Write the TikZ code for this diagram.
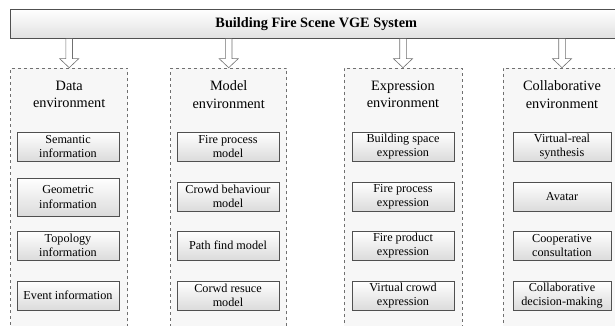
\documentclass[tikz,border=0pt]{standalone}
\usepackage{fontspec}
\setmainfont{Liberation Serif}
\usetikzlibrary{calc}
\definecolor{lineg}{HTML}{505050}
\definecolor{dashg}{HTML}{707070}
\definecolor{envfill}{HTML}{F7F7F7}
\tikzset{
  titlebox/.style={draw=lineg, line width=0.7pt, top color=white, bottom color=black!12,
    minimum width=611.5pt, minimum height=29pt, inner sep=0pt,
    font=\fontsize{14.3}{16}\selectfont\bfseries},
  envbox/.style={draw=dashg, dashed, line width=0.6pt, fill=envfill, inner sep=0pt},
  envtitle/.style={align=center, inner sep=0pt, font=\fontsize{14.3}{17.3}\selectfont},
  itembox/.style={draw=lineg, line width=0.7pt, top color=white, bottom color=black!14,
    minimum width=102pt, minimum height=29pt, inner sep=0pt, align=center,
    font=\fontsize{12.2}{14.3}\selectfont},
  hollow/.style={draw=dashg, line width=0.6pt, fill=white}
}
\newcommand\hollowarrow[2]{%
  \draw[hollow] let \p1=(#2.north), \p2=(#1.south) in
    (\x1-3.3pt,\y2) -- (\x1-3.3pt,\y1+9pt) -- (\x1-9.5pt,\y1+9pt) -- (\x1,\y1)
    -- (\x1+9.5pt,\y1+9pt) -- (\x1+3.3pt,\y1+9pt) -- (\x1+3.3pt,\y2);}
\begin{document}
\begin{tikzpicture}[x=1pt,y=-1pt]
\useasboundingbox (0,0) rectangle (615,326);
\clip (0,0) rectangle (615,326);
% title
\node[titlebox] (title) at (316.25,24) {Building Fire Scene VGE System};
% environment boxes
\node[envbox, minimum width=117pt, minimum height=280pt, anchor=north] (c1) at (69.2,67.7) {};
\node[envbox, minimum width=116pt, minimum height=280pt, anchor=north] (c2) at (228.7,67.7) {};
\node[envbox, minimum width=118pt, minimum height=280pt, anchor=north] (c3) at (403,67.7) {};
\node[envbox, minimum width=118pt, minimum height=280pt, anchor=north] (c4) at (562,67.7) {};
% arrows
\hollowarrow{title}{c1}
\hollowarrow{title}{c2}
\hollowarrow{title}{c3}
\hollowarrow{title}{c4}
% environment titles
\node[envtitle] (t1) at (69.2,94.5) {Data\\environment};
\node[envtitle] (t2) at (228.7,94.5) {Model\\environment};
\node[envtitle] (t3) at (403,94.5) {Expression\\environment};
\node[envtitle] (t4) at (562,94.5) {Collaborative\\environment};
% column 1
\node[itembox] (a1) at (68,146.5) {Semantic\\information};
\node[itembox, minimum height=38pt] (a2) at (68,197) {Geometric\\information};
\node[itembox] (a3) at (68,245.5) {Topology\\information};
\node[itembox] (a4) at (68,295.5) {Event information};
% column 2
\node[itembox] (b1) at (228,146.5) {Fire process\\model};
\node[itembox] (b2) at (228,196.5) {Crowd behaviour\\model};
\node[itembox] (b3) at (228,245.5) {Path find model};
\node[itembox] (b4) at (228,295.5) {Corwd resuce\\model};
% column 3
\node[itembox] (d1) at (403,146.5) {Building space\\expression};
\node[itembox] (d2) at (403,196.5) {Fire process\\expression};
\node[itembox] (d3) at (403,245.5) {Fire product\\expression};
\node[itembox] (d4) at (403,295.5) {Virtual crowd\\expression};
% column 4
\node[itembox, minimum width=98pt] (e1) at (562,146.5) {Virtual-real\\synthesis};
\node[itembox, minimum width=98pt] (e2) at (562,196.5) {Avatar};
\node[itembox, minimum width=98pt] (e3) at (562,245.5) {Cooperative\\consultation};
\node[itembox, minimum width=98pt] (e4) at (562,295.5) {Collaborative\\decision-making};
\end{tikzpicture}
\end{document}
